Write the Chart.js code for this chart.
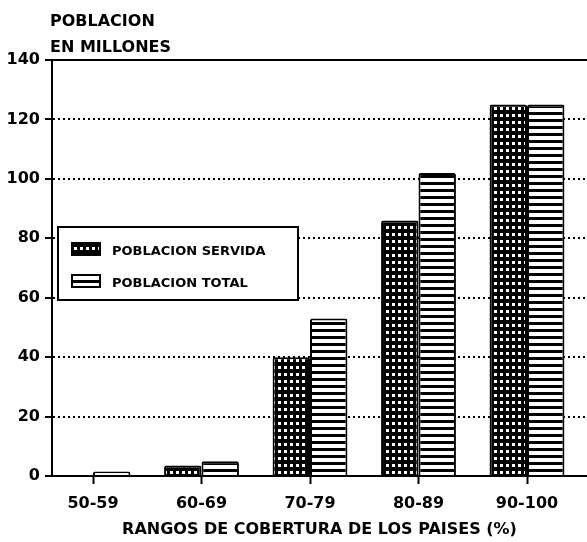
<!DOCTYPE html>
<html>
<head>
<meta charset="utf-8">
<script src="https://cdn.jsdelivr.net/npm/chart.js@4.4.0/dist/chart.umd.min.js"></script>
<style>
  html, body { margin: 0; padding: 0; background: #fff; }
</style>
</head>
<body>
<canvas id="chart" width="587" height="542"></canvas>
<script>
// Datos (millones de habitantes)
const rangos = ['50-59', '60-69', '70-79', '80-89', '90-100'];
const servida = [0.3, 3.5, 40, 86, 125];
const total = [1.5, 5, 53, 102, 125];
const yTicks = [0, 20, 40, 60, 80, 100, 120, 140];

const tituloY = ['POBLACION', 'EN MILLONES'];
const tituloX = 'RANGOS DE COBERTURA DE LOS PAISES (%)';
const leyenda = ['POBLACION SERVIDA', 'POBLACION TOTAL'];

const FUENTE = "'DejaVu Sans', sans-serif";

// Tramas de relleno (puntos blancos sobre negro / rayas horizontales)
function patronPuntos() {
    const c = document.createElement('canvas');
    c.width = 6; c.height = 7;
    const g = c.getContext('2d');
    g.fillStyle = '#000';
    g.fillRect(0, 0, 6, 7);
    g.fillStyle = '#fff';
    g.fillRect(2, 2, 3, 3);
    return g.createPattern(c, 'repeat');
}

function patronRayas() {
    const c = document.createElement('canvas');
    c.width = 8; c.height = 7;
    const g = c.getContext('2d');
    g.fillStyle = '#000';
    g.fillRect(0, 0, 8, 7);
    g.fillStyle = '#fff';
    g.fillRect(0, 3, 8, 4);
    return g.createPattern(c, 'repeat');
}

const puntos = patronPuntos();
const rayas = patronRayas();

// Titulo del eje Y arriba a la izquierda
const tituloPlugin = {
    id: 'tituloY',
    afterDraw(chart) {
        const ctx = chart.ctx;
        ctx.save();
        ctx.fillStyle = '#000';
        ctx.font = 'bold 16px ' + FUENTE;
        ctx.textBaseline = 'alphabetic';
        ctx.fillText(tituloY[0], 50, 26);
        ctx.fillText(tituloY[1], 50, 52);
        ctx.restore();
    }
};

// Leyenda dentro del area del grafico
const leyendaPlugin = {
    id: 'leyendaCaja',
    afterDatasetsDraw(chart) {
        const ctx = chart.ctx;
        const a = chart.chartArea;
        const x = a.left + 6, y = a.top + 167;
        ctx.save();
        ctx.fillStyle = '#fff';
        ctx.fillRect(x, y, 240, 73);
        ctx.lineWidth = 2;
        ctx.strokeStyle = '#000';
        ctx.strokeRect(x, y, 240, 73);

        const fills = [puntos, rayas];
        const filas = [y + 16, y + 48];
        ctx.font = 'bold 13px ' + FUENTE;
        ctx.textBaseline = 'alphabetic';
        fills.forEach((f, i) => {
            ctx.fillStyle = f;
            ctx.fillRect(x + 14, filas[i], 28, 12);
            ctx.strokeRect(x + 14, filas[i], 28, 12);
            ctx.fillStyle = '#000';
            ctx.fillText(leyenda[i], x + 54, filas[i] + 12);
        });
        ctx.restore();
    }
};

new Chart(document.getElementById('chart'), {
    type: 'bar',
    data: {
        datasets: [
            {
                label: leyenda[0],
                data: servida.map((v, i) => ({ x: i, y: v })),
                backgroundColor: puntos,
                borderColor: '#000',
                borderWidth: 2,
                borderRadius: 2
            },
            {
                label: leyenda[1],
                data: total.map((v, i) => ({ x: i, y: v })),
                backgroundColor: rayas,
                borderColor: '#000',
                borderWidth: 2,
                borderRadius: 2
            }
        ]
    },
    options: {
        responsive: false,
        animation: false,
        devicePixelRatio: 1,
        categoryPercentage: 0.69,
        barPercentage: 1,
        layout: { padding: { top: 60, right: 0, left: 0, bottom: 0 } },
        plugins: {
            legend: { display: false },
            tooltip: { enabled: false }
        },
        scales: {
            x: {
                type: 'linear',
                min: -0.378,
                max: 4.553,
                offset: false,
                afterBuildTicks: s => { s.ticks = rangos.map((_, i) => ({ value: i })); },
                afterFit: s => { s.height = 66; },
                ticks: {
                    callback: v => rangos[v] ?? '',
                    color: '#000',
                    font: { family: FUENTE, size: 16, weight: 'bold' },
                    padding: 10,
                    maxRotation: 0,
                    autoSkip: false
                },
                grid: {
                    offset: false,
                    drawOnChartArea: false,
                    color: '#000',
                    tickLength: 8,
                    tickWidth: 2
                },
                border: { color: '#000', width: 2 },
                title: {
                    display: true,
                    text: tituloX,
                    color: '#000',
                    font: { family: FUENTE, size: 16, weight: 'bold' },
                    padding: { top: 0, bottom: 3 }
                }
            },
            y: {
                min: 0,
                max: 140,
                afterBuildTicks: s => { s.ticks = yTicks.map(v => ({ value: v })); },
                afterFit: s => { s.width = 52; },
                ticks: {
                    color: '#000',
                    font: { family: FUENTE, size: 16, weight: 'bold' },
                    padding: 5
                },
                grid: {
                    color: '#000',
                    lineWidth: 2,
                    tickLength: 7,
                    tickWidth: 2,
                    tickBorderDash: []
                },
                border: {
                    color: '#000',
                    width: 2,
                    dash: c => (c.tick && c.tick.value === 140 ? [] : [2, 3])
                }
            }
        }
    },
    plugins: [tituloPlugin, leyendaPlugin]
});
</script>
</body>
</html>
